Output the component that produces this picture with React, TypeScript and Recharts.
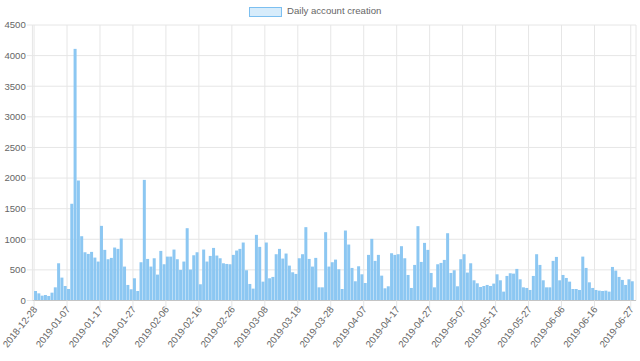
import React from 'react';
import { BarChart, Bar, XAxis, YAxis, CartesianGrid } from 'recharts';

const START_DATE = '2018-12-28';

const dailyAccounts: number[] = [
  155, 117, 79, 90, 74, 128, 215, 608, 374, 237,
  188, 1580, 4110, 1960, 1050, 788, 761, 794, 701, 636,
  1219, 827, 674, 696, 865, 843, 1012, 554, 254, 183,
  363, 155, 625, 1970, 679, 554, 690, 423, 810, 592,
  717, 717, 832, 674, 499, 636, 1181, 505, 739, 788,
  265, 832, 636, 728, 859, 734, 690, 608, 597, 592,
  745, 816, 843, 947, 494, 270, 194, 1072, 876, 308,
  947, 363, 385, 756, 843, 685, 767, 570, 461, 434,
  690, 756, 1198, 679, 554, 696, 215, 215, 1116, 554,
  625, 668, 510, 188, 1143, 914, 532, 314, 559, 428,
  286, 745, 1007, 647, 745, 406, 199, 232, 772, 745,
  756, 887, 690, 417, 205, 581, 1214, 630, 941, 827,
  450, 215, 592, 614, 663, 1099, 450, 494, 232, 674,
  756, 456, 608, 330, 281, 221, 237, 254, 237, 276,
  428, 330, 145, 401, 445, 439, 516, 346, 215, 205,
  172, 401, 756, 581, 330, 215, 215, 647, 712, 330,
  417, 368, 308, 188, 188, 172, 717, 532, 297, 205,
  172, 161, 155, 161, 145, 548, 488, 385, 336, 254,
  346, 314,
];

const xTickLabels: string[] = [
  '2018-12-28', '2019-01-07', '2019-01-17', '2019-01-27', '2019-02-06',
  '2019-02-16', '2019-02-26', '2019-03-08', '2019-03-18', '2019-03-28',
  '2019-04-07', '2019-04-17', '2019-04-27', '2019-05-07', '2019-05-17',
  '2019-05-27', '2019-06-06', '2019-06-16', '2019-06-27',
];

const yTicks: number[] = [0, 500, 1000, 1500, 2000, 2500, 3000, 3500, 4000, 4500];

function dateLabel(i: number): string {
  const d = new Date(START_DATE + 'T00:00:00Z');
  d.setUTCDate(d.getUTCDate() + i);
  return d.toISOString().slice(0, 10);
}

const data = dailyAccounts.map((v, i) => ({ date: dateLabel(i), value: v }));

const FONT = '"Liberation Sans", Arial, Helvetica, sans-serif';
const TEXT = '#666666';

const XTick = (props: any) => {
  const { x, y, payload } = props;
  return (
    <g transform={`translate(${x + 1},${y - 1})`}>
      <text
        x={0}
        y={0}
        dy="0.35em"
        textAnchor="end"
        transform="rotate(-52)"
        fontSize={9.6}
        fontFamily={FONT}
        fill={TEXT}
      >
        {payload.value}
      </text>
    </g>
  );
};

const BarShape = (props: any) => {
  const { x, y, width, height } = props;
  if (!height || height <= 0) return null;
  return <rect x={x + 1.3} y={y} width={width} height={height} fill="#8cc7f2" />;
};

export default function App() {
  return (
    <div style={{ position: 'absolute', left: 0, top: 0, width: 640, height: 361, background: '#fff' }}>
      <BarChart
        width={640}
        height={361}
        data={data}
        margin={{ top: 25, right: 4, bottom: 0, left: 0 }}
        barCategoryGap="10%"
      >
        <CartesianGrid stroke="#e6e6e6" strokeWidth={1} />
        <XAxis
          dataKey="date"
          type="category"
          ticks={xTickLabels}
          interval={0}
          height={60.5}
          padding={{ left: 0, right: 3.6 }}
          tick={<XTick />}
          tickSize={8}
          tickMargin={0}
          tickLine={{ stroke: '#e6e6e6' }}
          axisLine={{ stroke: '#c4c4c4' }}
        />
        <YAxis
          type="number"
          domain={[0, 4500]}
          ticks={yTicks}
          interval={0}
          width={32.4}
          tickSize={5.6}
          tickMargin={1}
          axisLine={false}
          tickLine={{ stroke: '#e6e6e6' }}
          tick={{ fontSize: 9.6, fontFamily: FONT, fill: TEXT }}
        />
        <Bar dataKey="value" isAnimationActive={false} shape={<BarShape />} />
      </BarChart>
      <div
        style={{
          position: 'absolute',
          left: 249,
          top: 7,
          width: 31,
          height: 8,
          background: '#d7ecfb',
          border: '1px solid #7cbff0',
        }}
      />
      <div
        style={{
          position: 'absolute',
          left: 287,
          top: 5,
          fontSize: 9.6,
          lineHeight: '12px',
          fontFamily: FONT,
          color: TEXT,
          whiteSpace: 'nowrap',
        }}
      >
        Daily account creation
      </div>
    </div>
  );
}
